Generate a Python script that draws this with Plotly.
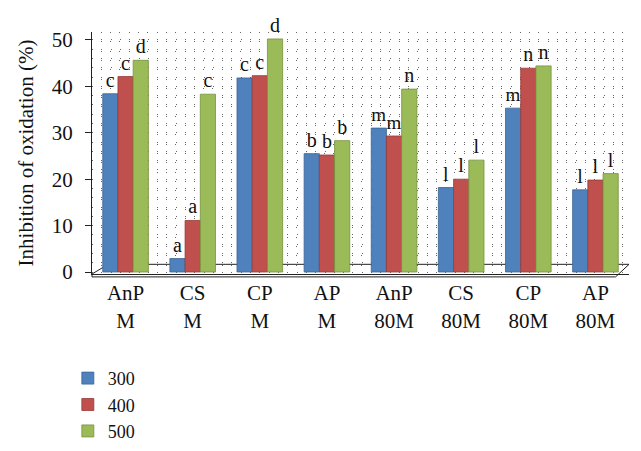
import plotly.graph_objects as go

categories = ["AnP<br>M", "CS<br>M", "CP<br>M", "AP<br>M",
              "AnP<br>80M", "CS<br>80M", "CP<br>80M", "AP<br>80M"]
series_names = ["300", "400", "500"]
v300 = [38.4, 2.9, 41.8, 25.5, 31.0, 18.2, 35.3, 17.7]
v400 = [42.1, 11.1, 42.3, 25.2, 29.3, 20.0, 43.9, 19.8]
v500 = [45.6, 38.3, 50.2, 28.3, 39.4, 24.1, 44.4, 21.2]
l300 = ["c", "a", "c", "b", "m", "l", "m", "l"]
l400 = ["c", "a", "c", "b", "m", "l", "n", "l"]
l500 = ["d", "c", "d", "b", "n", "l", "n", "l"]
y_ticks = [0, 10, 20, 30, 40, 50]

colors = ["#4F81BD", "#C0504D", "#9BBB59"]
edges = ["#3A6494", "#963B38", "#76923C"]
FONT = "Liberation Serif, Times New Roman, serif"

fig = go.Figure()
for name, vals, labs, c, e in zip(series_names, [v300, v400, v500],
                                  [l300, l400, l500], colors, edges):
    fig.add_trace(go.Bar(
        x=categories, y=vals, name=name, text=labs,
        textposition="outside", cliponaxis=False,
        textfont=dict(family=FONT, size=20, color="#111"),
        marker=dict(color=c, line=dict(color=e, width=0.8)),
    ))

# invisible helper trace so the dotted vertical grid axis is drawn
fig.add_trace(go.Scatter(x=[0, 58], y=[0, 0], xaxis="x2", mode="lines",
                         line=dict(width=0), showlegend=False,
                         hoverinfo="skip"))

fig.update_layout(
    width=641, height=451,
    margin=dict(l=84, r=20, t=24, b=185, autoexpand=False),
    paper_bgcolor="white", plot_bgcolor="white",
    font=dict(family=FONT, size=20, color="#111"),
    barmode="group", bargap=0.32, bargroupgap=0.0,
    xaxis=dict(
        type="category", showgrid=False, showline=True,
        linecolor="#222", linewidth=1.2, ticks="",
        tickfont=dict(family=FONT, size=21, color="#111"),
        range=[-0.5, 7.5],
    ),
    xaxis2=dict(
        overlaying="x", range=[0, 57.7], dtick=1, showgrid=True,
        griddash="1px,8.3px", gridcolor="#666", gridwidth=1,
        showticklabels=False, zeroline=False, showline=False, ticks="",
    ),
    yaxis=dict(
        range=[-0.43, 51.7], tickvals=y_ticks, showgrid=True,
        griddash="1px,8.3px", gridcolor="#666", gridwidth=1,
        minor=dict(dtick=2, showgrid=True, griddash="1px,8.3px",
                   gridcolor="#666", gridwidth=1),
        zeroline=False, showline=True, linecolor="#222", linewidth=1.2,
        ticks="outside", ticklen=6, tickcolor="#222",
        ticklabelstandoff=8,
        tickfont=dict(family=FONT, size=21, color="#111"),
        title=dict(text="Inhibition of oxidation (%)",
                   font=dict(family=FONT, size=21, color="#111"),
                   standoff=12),
    ),
    legend=dict(
        x=-0.045, y=-0.355, xanchor="left", yanchor="top",
        orientation="v", traceorder="normal",
        font=dict(family=FONT, size=18, color="#111"),
        bgcolor="rgba(0,0,0,0)", tracegroupgap=0,
    ),
)

# light 3D-like floor slab
fig.add_shape(type="path", xref="paper", yref="paper",
              path="M 0 0 L 0.03 0.04 L 1.0 0.04 L 0.975 -0.012 L 0 -0.012 Z",
              line=dict(color="#222", width=1), fillcolor="rgba(255,255,255,0)",
              layer="below")

fig.write_html("out.html")
